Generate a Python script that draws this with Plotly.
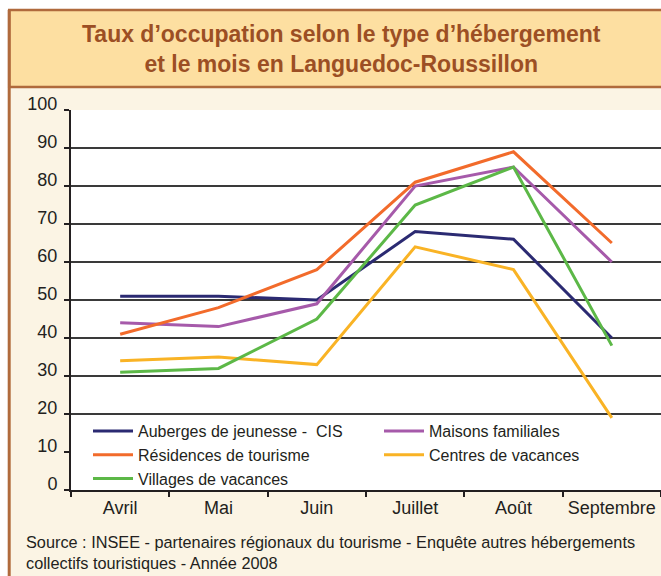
import plotly.graph_objects as go

months = ["Avril", "Mai", "Juin", "Juillet", "Août", "Septembre"]
auberges = [51, 51, 50, 68, 66, 40]
maisons = [44, 43, 49, 80, 85, 60]
residences = [41, 48, 58, 81, 89, 65]
centres = [34, 35, 33, 64, 58, 19]
villages = [31, 32, 45, 75, 85, 38]
y_ticks = [0, 10, 20, 30, 40, 50, 60, 70, 80, 90, 100]

series = [
    ("Auberges de jeunesse -  CIS", auberges, "#2B2A72"),
    ("Maisons familiales", maisons, "#A65AAA"),
    ("Résidences de tourisme", residences, "#F26B2B"),
    ("Centres de vacances", centres, "#F9B325"),
    ("Villages de vacances", villages, "#5CB847"),
]

FONT = "Liberation Sans, Arial, sans-serif"
CREAM = "#FBF4E4"
BROWN = "#B06A3C"

fig = go.Figure()
for name, vals, col in series:
    fig.add_trace(go.Scatter(x=months, y=vals, name=name, mode="lines",
                             line=dict(color=col, width=3)))

L, T, W, H = 71, 110, 590, 380
FW, FH = 661, 576
def px(x):
    return (x - L) / W
def py(y):
    return (T + H - y) / H

shapes = [
    dict(type="rect", xref="paper", yref="paper", x0=px(-20), x1=px(700), y0=py(10), y1=py(-20),
         fillcolor="white", line=dict(width=0), layer="below"),
    dict(type="rect", xref="paper", yref="paper", x0=px(-20), x1=px(8), y0=py(700), y1=py(-20),
         fillcolor="white", line=dict(width=0), layer="below"),
    dict(type="rect", xref="paper", yref="paper", x0=px(9.2), x1=px(700), y0=py(87), y1=py(10),
         fillcolor="#FDDFA1", line=dict(color=BROWN, width=2.5), layer="below"),
    dict(type="line", xref="paper", yref="paper", x0=px(9.2), x1=px(9.2), y0=py(700), y1=py(10),
         line=dict(color=BROWN, width=3), layer="below"),
    dict(type="rect", xref="x", yref="y", x0=-0.5, x1=5.5, y0=0, y1=19.7,
         fillcolor="white", line=dict(width=0), layer="between"),
]

annotations = [
    dict(text="Taux d’occupation selon le type d’hébergement<br>et le mois en Languedoc-Roussillon",
         xref="paper", yref="paper", x=px(341), y=py(49), xanchor="center", yanchor="middle",
         showarrow=False, font=dict(family=FONT, size=23, color="#9C4F24", weight="bold")),
    dict(text="Source : INSEE - partenaires régionaux du tourisme - Enquête autres hébergements<br>collectifs touristiques - Année 2008",
         xref="paper", yref="paper", x=px(24), y=py(552), xanchor="left", yanchor="middle",
         align="left", showarrow=False, font=dict(family=FONT, size=16.3, color="#231F20")),
]

fig.update_layout(
    width=FW, height=FH,
    margin=dict(l=L, r=FW - L - W, t=T, b=FH - T - H, pad=0, autoexpand=False),
    paper_bgcolor=CREAM, plot_bgcolor="white",
    font=dict(family=FONT, color="#231F20"),
    shapes=shapes, annotations=annotations,
    showlegend=True,
    legend=dict(orientation="h", x=88 / FW, y=1 - 414 / FH,
                xanchor="left", yanchor="top",
                xref="container", yref="container", entrywidth=236, entrywidthmode="pixels",
                bgcolor="rgba(0,0,0,0)", font=dict(family=FONT, size=16, color="#231F20"),
                itemwidth=40, tracegroupgap=0),
    xaxis=dict(range=[-0.5, 5.5], showgrid=False, showline=True, linecolor="#231F20",
               linewidth=2, ticks="outside", ticklen=5, tickwidth=1.5, tickcolor="#231F20",
               tickson="boundaries", tickfont=dict(size=18, color="#231F20"), fixedrange=True),
    yaxis=dict(range=[0, 100], tickvals=y_ticks, showgrid=True, gridcolor="#3A3A3A",
               gridwidth=1.5, zeroline=False, showline=True, linecolor="#231F20", linewidth=2,
               ticks="outside", ticklen=5, tickwidth=1.5, tickcolor="#231F20",
               ticklabelstandoff=3, ticklabelshift=-6,
               tickfont=dict(size=18, color="#231F20"), fixedrange=True),
)

fig.write_html("out.html", config={"displayModeBar": False},
               post_script="document.body.style.margin='0';document.body.style.overflow='hidden';")
